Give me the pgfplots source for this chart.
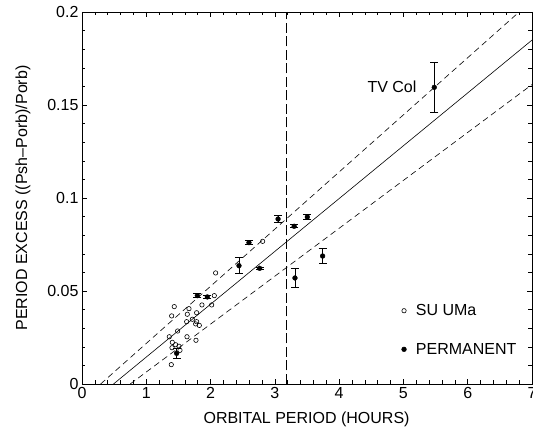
\documentclass[border=0pt]{standalone}
\usepackage{pgfplots}
\pgfplotsset{compat=1.18}
\usepackage{fontspec}
\setmainfont{Liberation Sans}
\begin{document}
\begin{tikzpicture}[font=\fontsize{16}{19}\selectfont]
\begin{axis}[
  scale only axis, width=450pt, height=372pt,
  xmin=0, xmax=7, ymin=0, ymax=0.2,
  xtick={0,1,...,7}, ytick={0,0.05,0.1,0.15,0.2},
  minor x tick num=4, minor y tick num=4,
  major tick length=5pt, minor tick length=3.5pt,
  tick style={black, line width=0.5pt},
  axis line style={line width=0.6pt},
  scaled y ticks=false,
  yticklabel style={/pgf/number format/fixed, /pgf/number format/precision=2},
  /pgf/number format/assume math mode=true,
  xlabel={ORBITAL PERIOD (HOURS)},
  ylabel={PERIOD EXCESS ((Psh--Porb)/Porb)},
  xlabel style={at={(axis description cs:0.499,-0.094)}, anchor=center},
  ylabel style={at={(axis description cs:-0.131,0.5)}, anchor=center},
  legend style={draw=none, fill=none, at={(axis cs:4.969,0.0429)}, anchor=north west,
    legend cell align=left, row sep=26pt, column sep=9.5pt, inner sep=0pt,
    nodes={inner sep=0pt}},
  legend image code/.code={\draw[#1] plot coordinates {(0pt,0pt)};},
]
% fit lines
\addplot[black, line width=0.6pt, forget plot] coordinates {(0.49,0) (7,0.1849)};
\addplot[black, line width=0.6pt, dash pattern=on 6pt off 4pt, forget plot] coordinates {(0.29,0) (6.80,0.2)};
\addplot[black, line width=0.6pt, dash pattern=on 6pt off 4pt, forget plot] coordinates {(0.75,0) (7,0.161)};
\addplot[black, line width=0.6pt, dash pattern=on 10pt off 3.5pt, forget plot] coordinates {(3.18,0) (3.18,0.2)};
% SU UMa
\addplot[only marks, mark=o, mark size=2.2pt, mark options={line width=0.6pt, black}] coordinates {
(1.435,0.0416) (1.395,0.0366) (1.664,0.0405) (1.638,0.0375) (1.783,0.0383)
(1.866,0.0425) (2.058,0.0475) (2.017,0.0425) (2.079,0.0597) (2.81,0.0767)
(1.628,0.0335) (1.716,0.0348) (1.783,0.0335) (1.768,0.0323) (1.825,0.0315)
(1.488,0.0285) (1.358,0.0254) (1.633,0.0254) (1.773,0.0235) (1.405,0.0224)
(1.457,0.0211) (1.508,0.0203) (1.400,0.0195) (1.524,0.0181) (1.389,0.0104)
};
\addlegendentry{SU UMa}
% Permanent superhumpers
\addplot[only marks, mark=*, mark size=2.4pt, black,
  error bars/.cd, y dir=both, y explicit, error mark=-,
  error bar style={line width=0.7pt, black},
  error mark options={rotate=90, mark size=4pt, line width=0.7pt, black}]
  table[x=x, y=y, y error=e] {
x y e
1.472 0.0165 0.0025
1.794 0.0475 0.0010
1.949 0.0468 0.0008
2.442 0.0636 0.0043
2.597 0.0760 0.0010
2.763 0.0622 0.0006
3.050 0.0887 0.0018
3.300 0.0848 0.0008
3.505 0.0898 0.0015
3.313 0.0570 0.0052
3.743 0.0688 0.0041
5.480 0.1595 0.0132
};
\addlegendentry{PERMANENT}
\node[anchor=east] at (axis cs:5.257,0.1597) {TV Col};
\end{axis}
\pgfresetboundingbox
\path ([shift={(-82pt,-49pt)}]current axis.south west) rectangle ([shift={(1pt,12pt)}]current axis.north east);
\end{tikzpicture}
\end{document}
